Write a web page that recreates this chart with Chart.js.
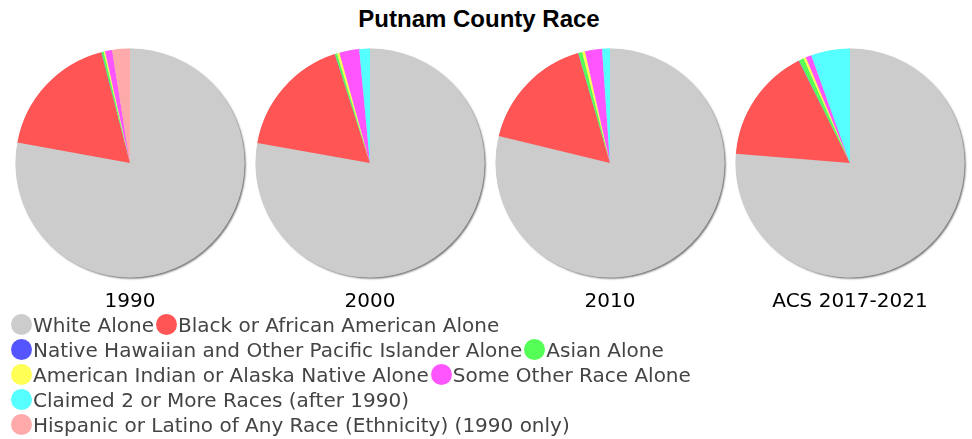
<!DOCTYPE html>
<html>
<head>
<meta charset="utf-8">
<script src="https://cdn.jsdelivr.net/npm/chart.js@4"></script>
<style>
  body { margin: 0; background: #fff; width: 972px; height: 439px; position: relative; overflow: hidden; }
  #title { position: absolute; left: 0; top: 5px; width: 958px; text-align: center;
           font: bold 24px 'Liberation Sans', Arial, sans-serif; line-height: 28px; color: #000; }
  .pie { position: absolute; top: 43px; }
  #legend { position: absolute; left: 11px; top: 312px; width: 958px; display: flex; flex-wrap: wrap;
            font: 20px 'DejaVu Sans', sans-serif; color: #444; }
  .item { display: flex; align-items: center; height: 25px; margin-right: 2px; white-space: nowrap; }
  .dot { width: 21px; height: 21px; border-radius: 50%; margin-right: 1px; }
</style>
</head>
<body>
<div id="title">Putnam County Race</div>
<canvas id="c0" class="pie" width="240" height="271" style="left:10px"></canvas>
<canvas id="c1" class="pie" width="240" height="271" style="left:250px"></canvas>
<canvas id="c2" class="pie" width="240" height="271" style="left:490px"></canvas>
<canvas id="c3" class="pie" width="240" height="271" style="left:730px"></canvas>
<div id="legend"></div>
<script>
const categories = [
  'White Alone',
  'Black or African American Alone',
  'Native Hawaiian and Other Pacific Islander Alone',
  'Asian Alone',
  'American Indian or Alaska Native Alone',
  'Some Other Race Alone',
  'Claimed 2 or More Races (after 1990)',
  'Hispanic or Latino of Any Race (Ethnicity) (1990 only)'
]
const years = ['1990', '2000', '2010', 'ACS 2017-2021']

// percent of population, one value per year
const white    = [77.9, 77.8, 78.7, 76.3]
const black    = [18.1, 17.2, 16.7, 16.3]
const nhpi     = [0.05, 0.05, 0.05, 0.05]
const asian    = [0.3, 0.3, 0.55, 0.7]
const aian     = [0.2, 0.35, 0.4, 0.35]
const other    = [1.0, 2.8, 2.4, 0.8]
const multi    = [0, 1.5, 1.1, 5.5]
const hispanic = [2.5, 0, 0, 0]

const colors = ['#cccccc', '#ff5555', '#5555ff', '#55ff55', '#ffff55', '#ff55ff', '#55ffff', '#ffaaaa']

const series = [white, black, nhpi, asian, aian, other, multi, hispanic]

// soft drop shadow under the whole pie
const pieShadow = {
  id: 'pieShadow',
  beforeDatasetsDraw(chart) {
    const arc = chart.getDatasetMeta(0).data[0]
    if (!arc) return
    const ctx = chart.ctx
    ctx.save()
    ctx.shadowColor = 'rgba(0,0,0,0.55)'
    ctx.shadowBlur = 2
    ctx.shadowOffsetX = 1.5
    ctx.shadowOffsetY = 1.5
    ctx.fillStyle = '#cccccc'
    ctx.beginPath()
    ctx.arc(arc.x, arc.y, arc.outerRadius - 0.3, 0, Math.PI * 2)
    ctx.fill()
    ctx.restore()
  }
}

years.forEach((year, i) => {
  new Chart(document.getElementById('c' + i), {
    type: 'pie',
    data: {
      labels: categories,
      datasets: [{
        data: series.map(s => s[i]),
        backgroundColor: colors,
        borderWidth: 0,
        hoverOffset: 0
      }]
    },
    options: {
      responsive: false,
      animation: false,
      layout: { padding: { top: 5, left: 5.5, right: 5.5, bottom: 0 } },
      plugins: {
        legend: { display: false },
        tooltip: { enabled: false },
        title: {
          display: true,
          text: year,
          position: 'bottom',
          color: '#000',
          font: { family: "'DejaVu Sans', sans-serif", size: 20, weight: 'normal', lineHeight: 1.2 },
          padding: { top: 12, bottom: 0 }
        }
      }
    },
    plugins: [pieShadow]
  })
})

const legend = document.getElementById('legend')
categories.forEach((name, k) => {
  const item = document.createElement('div')
  item.className = 'item'
  const dot = document.createElement('span')
  dot.className = 'dot'
  dot.style.background = colors[k]
  const txt = document.createElement('span')
  txt.textContent = name
  item.appendChild(dot)
  item.appendChild(txt)
  legend.appendChild(item)
})
</script>
</body>
</html>
